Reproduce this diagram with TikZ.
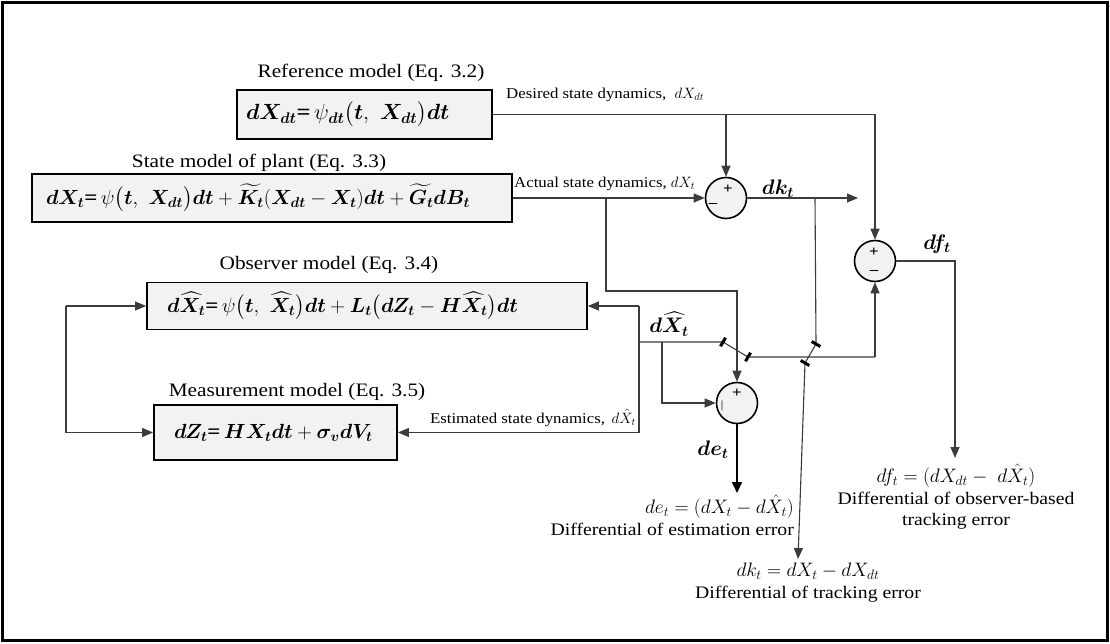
\documentclass[tikz,border=0pt]{standalone}
\usepackage{fix-cm}
\usepackage{amsmath,bm}
\usepackage{fontspec}
\setmainfont{Liberation Serif}[FakeStretch=1.12]
\usetikzlibrary{arrows.meta,calc}

\definecolor{boxgray}{RGB}{242,242,242}
\definecolor{wire}{RGB}{60,60,60}

\newcommand\eqfont{\fontsize{20.5}{24}\selectfont}
\newcommand\lblfont{\fontsize{19}{22}\selectfont}
\newcommand\smallfont{\fontsize{15}{18}\selectfont}
\newcommand\resfont{\fontsize{17.6}{21}\selectfont}
\newcommand\resmath[1]{{\fontsize{19.5}{22}\selectfont$#1$}}

\tikzset{
  modelbox/.style={draw, line width=1.8pt, fill=boxgray, inner ysep=0pt,
    align=left, font=\eqfont},
  sumnode/.style={circle, draw, line width=1.6pt, fill=boxgray,
    minimum size=41pt, inner sep=0pt},
  sgn/.style={inner sep=0pt, font=\fontsize{15}{15}\selectfont\bfseries},
  lbl/.style={inner sep=0pt, font=\lblfont},
  small/.style={inner sep=0pt, font=\smallfont},
  res/.style={inner sep=0pt, font=\resfont, align=center},
  bl/.style={inner sep=0pt, font=\fontsize{21}{21}\selectfont},
  sig/.style={wire, line width=1.1pt, -{Triangle[length=11pt,width=9pt]}},
  sigthick/.style={black, line width=1.8pt, -{Triangle[length=11pt,width=10pt]}},
  line/.style={wire, line width=1.1pt},
  hop/.style={black, line width=3pt}
}

\begin{document}
\begin{tikzpicture}[x=1pt,y=-1pt]
  \useasboundingbox (0,0) rectangle (1110,644);
  % frame
  \draw[line width=3pt] (2.5,2.5) rectangle (1107,640);

  % models
  \node[lbl] (reflbl) at (371,73) {Reference model (Eq. 3.2)};
  \node[modelbox, minimum width=255pt, minimum height=49pt, inner xsep=9pt,
    text width=237pt, font=\fontsize{22}{26}\selectfont] (ref) at (364.5,114.5)
    {$\bm{dX_{dt}}$\textbf{=}\,$\psi_{\bm{dt}}\bigl(\bm{t},\ \bm{X_{dt}}\bigr)\bm{dt}$};

  \node[lbl] (plantlbl) at (259,163) {State model of plant (Eq. 3.3)};
  \node[modelbox, minimum width=480pt, minimum height=48pt, inner xsep=14pt,
    text width=452pt] (plant) at (272,198)
    {$\bm{dX_t}$\textbf{=}\,$\psi\bigl(\bm{t},\ \bm{X_{dt}}\bigr)\bm{dt}
      + \widetilde{\bm{K_t}}(\bm{X_{dt}} - \bm{X_t})\bm{dt}
      + \widetilde{\bm{G_t}}\bm{dB_t}$};

  \node[lbl] (obslbl) at (329,265) {Observer model (Eq. 3.4)};
  \node[modelbox, minimum width=440pt, minimum height=47pt, inner xsep=20pt,
    text width=400pt] (obs) at (367,306)
    {$\bm{d\widehat{X}_t}$\textbf{=}\,$\psi\bigl(\bm{t},\ \bm{\widehat{X}_t}\bigr)\bm{dt}
      + \bm{L_t}\bigl(\bm{dZ_t} - \bm{H\widehat{X}_t}\bigr)\bm{dt}$};

  \node[lbl] (measlbl) at (297,392) {Measurement model (Eq. 3.5)};
  \node[modelbox, minimum width=243pt, minimum height=55pt, inner xsep=20pt,
    text width=203pt] (meas) at (275.5,432.5)
    {$\bm{dZ_t}$\textbf{=}\,$\bm{HX_tdt} + \bm{\sigma_v dV_t}$};

  % summing junctions
  \node[sumnode] (s1) at (726,198) {};
  \node[sumnode] (s2) at (737,403) {};
  \node[sumnode] (s3) at (875,261) {};
  \node[sgn] (s1p) at ($(s1)+(2,-9)$) {+};
  \node[sgn] (s1m) at ($(s1)+(-13,7)$) {--};
  \node[sgn] (s2p) at ($(s2)+(0,-10)$) {+};
  \node[sgn, font=\fontsize{11}{11}\selectfont] (s2m) at ($(s2)+(-15,3)$) {|};
  \node[sgn] (s3p) at ($(s3)+(-1,-9)$) {+};
  \node[sgn] (s3m) at ($(s3)+(-1,11)$) {--};

  % desired state dynamics
  \node[small, anchor=west] (deslbl) at (506,95) {Desired state dynamics, \ $dX_{dt}$};
  \draw[sig] (ref.east) -| (s3.north);
  \draw[sig] (s1 |- ref.east) -- (s1.north);

  % actual state dynamics
  \node[small, anchor=west] (actlbl) at (514,184) {Actual state dynamics, $dX_t$};
  \draw[sig] (plant.east) -- (s1.west);

  % tracking error dk
  \node[bl] (dklbl) at (778,189) {$\bm{dk_t}$};
  \coordinate (dkend) at (858,198);
  \draw[sig] (s1.east) -- (dkend);
  \coordinate (dktap) at (815,198);
  \coordinate (j2a) at (816,344);
  \coordinate (j2b) at (805,363);
  \coordinate (dkout) at (798,559);
  \draw[line] (dktap) -- (j2a) -- (j2b);
  \draw[sig] (j2b) -- (dkout);
  \draw[hop] ($(j2a)!5pt!90:(j2b)$) -- ($(j2a)!5pt!-90:(j2b)$);
  \draw[hop] ($(j2b)!5pt!90:(j2a)$) -- ($(j2b)!5pt!-90:(j2a)$);

  % actual state to estimation error
  \coordinate (xtap) at (606,198);
  \coordinate (xbend) at (737,291);
  \draw[sig] (xtap) |- (xbend) -- (s2.north);

  % observer / measurement feedback
  \coordinate (fbtop) at (639,306);
  \coordinate (fbbot) at (639,432.5);
  \draw[line] (fbtop) -- (fbbot);
  \draw[sig] (fbtop) -- (obs.east);
  \draw[sig] (fbbot) -- (meas.east);
  \node[small, anchor=east] (estlbl) at (636,418) {Estimated state dynamics, \,$d\hat{X}_t$};
  \coordinate (loop) at (66,306);
  \draw[sig] (loop) -- (obs.west);
  \draw[sig] (loop) |- (meas.west);

  % estimated state dynamics
  \node[bl] (dxhlbl) at (669,324) {$\bm{d\widehat{X}_t}$};
  \coordinate (xhtap) at (639,342);
  \coordinate (j1a) at (723,342);
  \coordinate (j1b) at (748,357);
  \coordinate (xhend) at (875,357);
  \draw[line] (xhtap) -- (j1a) -- (j1b) -- (xhend);
  \draw[sig] (xhend) -- (s3.south);
  \draw[hop] ($(j1a)!5pt!90:(j1b)$) -- ($(j1a)!5pt!-90:(j1b)$);
  \draw[hop] ($(j1b)!5pt!90:(j1a)$) -- ($(j1b)!5pt!-90:(j1a)$);
  \coordinate (xhbr) at (662,342);
  \draw[sig] (xhbr) |- (s2.west);

  % estimation error de
  \node[bl] (delbl) at (713,450) {$\bm{de_t}$};
  \coordinate (deend) at (737,493);
  \draw[sigthick] (s2.south) -- (deend);

  % observer-based tracking error df
  \node[bl] (dflbl) at (937,244) {$\bm{df_t}$};
  \coordinate (dfend) at (955,458);
  \draw[sig] (s3.east) -| (dfend);

  % results
  \node[res, anchor=north east, align=right] (deres) at (794,495)
    {\resmath{de_t = (dX_t - d\hat{X}_t)}\\[1pt]Differential of estimation error};
  \node[res, anchor=north] (dkres) at (808,563)
    {\resmath{dk_t = dX_t - dX_{dt}}\\[1pt]Differential of tracking error};
  \node[res, anchor=north] (dfres) at (956,464)
    {\resmath{df_t = (dX_{dt} -\ d\hat{X}_t)}\\[1pt]Differential of observer-based\\tracking error};
\end{tikzpicture}
\end{document}
